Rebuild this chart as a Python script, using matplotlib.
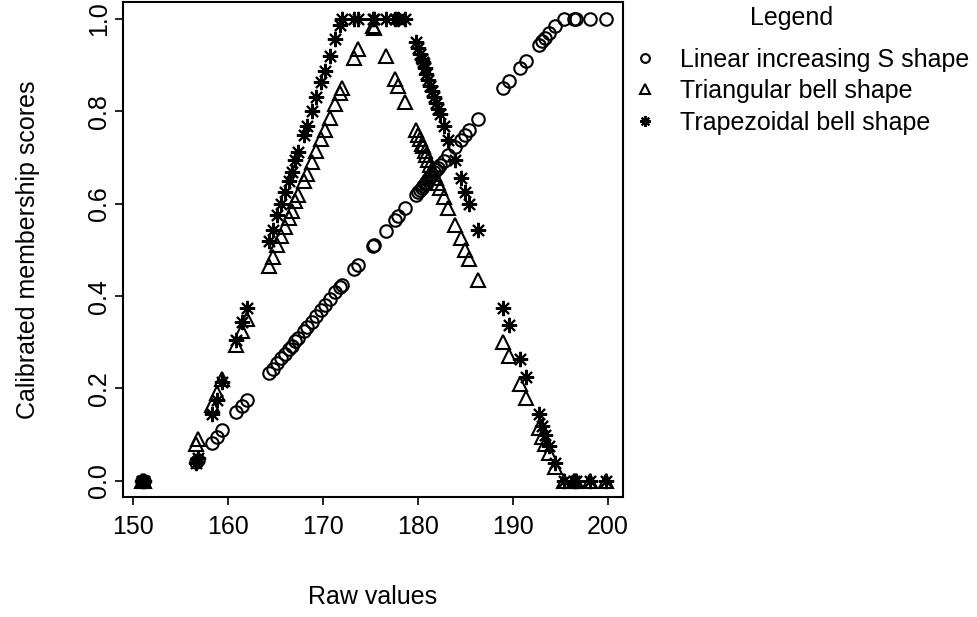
from matplotlib import pyplot as plt
import matplotlib


raw_values = [
    151.0, 151.2, 156.6, 156.8, 158.3, 158.8, 159.4, 160.9, 161.5, 162.0,
    164.3, 164.7, 165.2, 165.6, 166.0, 166.4, 166.7, 167.1, 167.4, 168.0,
    168.3, 168.8, 169.3, 169.8, 170.2, 170.7, 171.3, 171.8, 172.0, 173.3,
    173.7, 175.3, 175.4, 176.6, 177.6, 177.9, 178.6, 179.8, 180.0, 180.2,
    180.4, 180.5, 180.7, 180.9, 181.1, 181.3, 181.5, 181.7, 181.9, 182.1,
    182.3, 182.7, 183.2, 183.9, 184.5, 185.0, 185.4, 186.3, 189.0, 189.6,
    190.8, 191.4, 192.7, 193.1, 193.4, 193.8, 194.4, 195.4, 196.4, 196.7,
    198.1, 199.8,
]

linear_s = [
    0.0, 0.0, 0.040, 0.045, 0.083, 0.095, 0.110, 0.148, 0.163, 0.175,
    0.233, 0.243, 0.255, 0.265, 0.275, 0.285, 0.293, 0.303, 0.310, 0.325,
    0.333, 0.345, 0.358, 0.370, 0.380, 0.393, 0.408, 0.420, 0.425, 0.458,
    0.468, 0.508, 0.510, 0.540, 0.565, 0.573, 0.590, 0.620, 0.625, 0.630,
    0.635, 0.638, 0.643, 0.648, 0.653, 0.658, 0.663, 0.668, 0.673, 0.678,
    0.683, 0.693, 0.705, 0.723, 0.738, 0.750, 0.760, 0.783, 0.850, 0.865,
    0.895, 0.910, 0.943, 0.953, 0.960, 0.970, 0.985, 1.0, 1.0, 1.0,
    1.0, 1.0,
]

triangular = [
    0.0, 0.0, 0.080, 0.090, 0.165, 0.190, 0.220, 0.295, 0.325, 0.350,
    0.465, 0.485, 0.510, 0.530, 0.550, 0.570, 0.585, 0.605, 0.620, 0.650,
    0.665, 0.690, 0.715, 0.740, 0.760, 0.785, 0.815, 0.840, 0.850, 0.915,
    0.935, 0.985, 0.980, 0.920, 0.870, 0.855, 0.820, 0.760, 0.750, 0.740,
    0.730, 0.725, 0.715, 0.705, 0.695, 0.685, 0.675, 0.665, 0.655, 0.645,
    0.635, 0.615, 0.590, 0.555, 0.525, 0.500, 0.480, 0.435, 0.300, 0.270,
    0.210, 0.180, 0.115, 0.095, 0.080, 0.060, 0.030, 0.0, 0.0, 0.0,
    0.0, 0.0,
]

trapezoidal = [
    0.0, 0.0, 0.038, 0.050, 0.144, 0.175, 0.213, 0.306, 0.344, 0.375,
    0.519, 0.544, 0.575, 0.600, 0.625, 0.650, 0.669, 0.694, 0.713, 0.750,
    0.769, 0.800, 0.831, 0.863, 0.888, 0.919, 0.956, 0.988, 1.0, 1.0,
    1.0, 1.0, 1.0, 1.0, 1.0, 1.0, 1.0, 0.950, 0.938, 0.925,
    0.913, 0.906, 0.894, 0.881, 0.869, 0.856, 0.844, 0.831, 0.819, 0.806,
    0.794, 0.769, 0.738, 0.694, 0.656, 0.625, 0.600, 0.544, 0.375, 0.338,
    0.263, 0.225, 0.144, 0.119, 0.100, 0.075, 0.038, 0.0, 0.0, 0.0,
    0.0, 0.0,
]

series_labels = [
    'Linear increasing S shape',
    'Triangular bell shape',
    'Trapezoidal bell shape',
]

x_ticks = [150, 160, 170, 180, 190, 200]
y_ticks = [0.0, 0.2, 0.4, 0.6, 0.8, 1.0]


def main():
    matplotlib.rcParams['font.family'] = ['Liberation Sans', 'DejaVu Sans']
    matplotlib.rcParams['font.size'] = 18

    fig = plt.figure(figsize=(9.77, 6.17), dpi=100)
    ax = fig.add_axes([0.1259, 0.1945, 0.5118, 0.8023])

    marker_style = dict(linestyle='none', color='black',
                        markerfacecolor='none', markeredgewidth=1.5)
    ax.plot(raw_values, linear_s, marker='o', markersize=9,
            label=series_labels[0], **marker_style)
    ax.plot(raw_values, triangular, marker='^', markersize=10,
            label=series_labels[1], **marker_style)
    ax.plot(raw_values, trapezoidal, marker=(8, 2, 0), markersize=11,
            label=series_labels[2], **marker_style)

    ax.set_xlim(148.95, 201.6)
    ax.set_ylim(-0.035, 1.037)
    ax.set_xticks(x_ticks)
    ax.set_yticks(y_ticks)
    ax.set_yticklabels([f'{v:.1f}' for v in y_ticks],
                       rotation=90, va='center')
    ax.tick_params(direction='out', length=6, width=1.2, labelsize=18)
    ax.tick_params(axis='x', pad=7)
    ax.tick_params(axis='y', pad=2.5)
    for spine in ax.spines.values():
        spine.set_linewidth(1.5)

    ax.set_xlabel('Raw values', fontsize=18, labelpad=33)
    ax.set_ylabel('Calibrated membership scores', fontsize=18, labelpad=34)

    fig.text(792 / 977, 1 - 18 / 617, 'Legend', fontsize=18,
             ha='center', va='center')
    ax.legend(
        fontsize=18, frameon=False,
        loc='upper left', bbox_to_anchor=(0.637, 0.939),
        bbox_transform=fig.transFigure, markerscale=0.7,
        handlelength=1.0, handletextpad=0.9, labelspacing=0.3,
        borderaxespad=0,
    )

    fig.savefig('out.png', dpi=100)


if __name__ == '__main__':
    main()
